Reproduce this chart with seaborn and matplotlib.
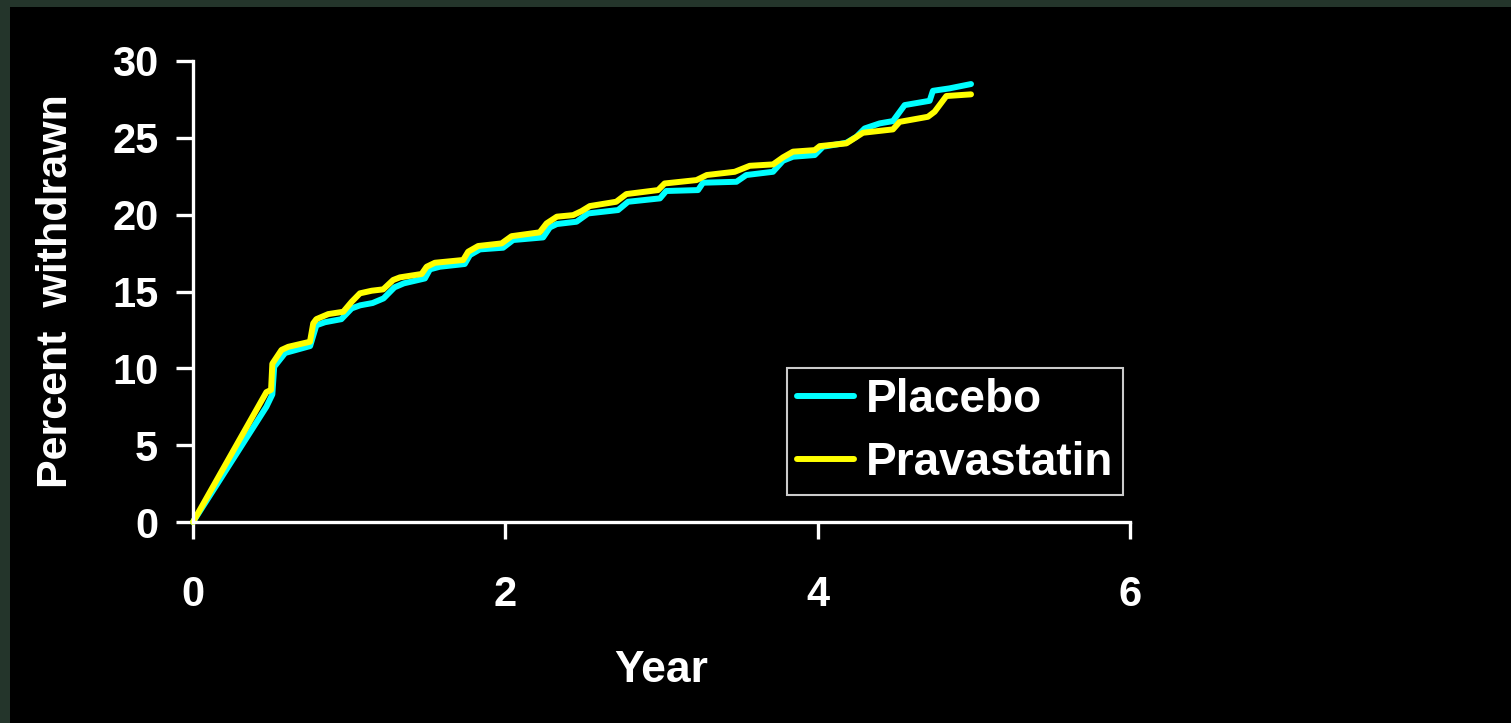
import pandas as pd
import matplotlib
matplotlib.use("Agg")
import matplotlib.pyplot as plt
import seaborn as sns
from matplotlib.patches import Rectangle

# Cumulative withdrawal curves
placebo_year = [0, 0.47, 0.508, 0.52, 0.59, 0.75, 0.79, 0.845, 0.95, 1.016, 1.07,
                1.15, 1.22, 1.29, 1.35, 1.485, 1.517, 1.58, 1.74, 1.773, 1.837,
                1.986, 2.05, 2.242, 2.285, 2.33, 2.456, 2.53, 2.722, 2.786, 2.99,
                3.03, 3.234, 3.266, 3.48, 3.543, 3.714, 3.778, 3.842, 3.981, 4.034,
                4.184, 4.248, 4.301, 4.397, 4.482, 4.557, 4.717, 4.738, 4.845, 4.982]
placebo_pct = [0, 7.5, 8.3, 10.1, 11.0, 11.45, 12.8, 13.0, 13.2, 13.9, 14.1,
               14.25, 14.55, 15.27, 15.53, 15.85, 16.44, 16.61, 16.79, 17.37, 17.74,
               17.85, 18.35, 18.52, 19.17, 19.39, 19.54, 20.08, 20.3, 20.84, 21.06,
               21.54, 21.6, 22.08, 22.14, 22.58, 22.79, 23.51, 23.77, 23.88, 24.42,
               24.68, 25.07, 25.61, 25.94, 26.09, 27.13, 27.41, 28.06, 28.22, 28.5]

prava_year = [0, 0.47, 0.5, 0.508, 0.567, 0.61, 0.749, 0.77, 0.79, 0.866, 0.962,
              1.016, 1.069, 1.144, 1.218, 1.282, 1.325, 1.464, 1.496, 1.549, 1.73,
              1.762, 1.826, 1.976, 2.04, 2.22, 2.264, 2.33, 2.434, 2.488, 2.541,
              2.71, 2.775, 2.978, 3.02, 3.224, 3.29, 3.469, 3.565, 3.714, 3.778,
              3.842, 3.981, 4.013, 4.184, 4.29, 4.482, 4.525, 4.706, 4.749, 4.824, 4.982]
prava_pct = [0, 8.45, 8.6, 10.3, 11.2, 11.4, 11.73, 12.93, 13.2, 13.53, 13.68,
             14.33, 14.88, 15.05, 15.14, 15.75, 15.92, 16.14, 16.61, 16.87, 17.05,
             17.59, 17.96, 18.13, 18.6, 18.85, 19.43, 19.87, 19.97, 20.23, 20.56,
             20.84, 21.34, 21.6, 22.03, 22.25, 22.58, 22.79, 23.18, 23.27, 23.73,
             24.1, 24.2, 24.46, 24.64, 25.33, 25.55, 26.04, 26.37, 26.7, 27.72, 27.83]

groups = ["Placebo", "Pravastatin"]
x_ticks = [0, 2, 4, 6]
y_ticks = [0, 5, 10, 15, 20, 25, 30]

df = pd.concat([
    pd.DataFrame({"year": placebo_year, "pct": placebo_pct, "group": groups[0]}),
    pd.DataFrame({"year": prava_year, "pct": prava_pct, "group": groups[1]}),
], ignore_index=True)

sns.set_style("dark")
plt.rcParams["font.family"] = ["Liberation Sans", "DejaVu Sans"]
plt.rcParams["font.weight"] = "bold"

fig = plt.figure(figsize=(15.11, 7.23), dpi=100, facecolor="#24352b")
# black slide area inside the green frame
frame = Rectangle((10 / 1511, 0), 1, 1 - 7 / 723, transform=fig.transFigure,
                  facecolor="black", edgecolor="none", zorder=-10)
fig.add_artist(frame)
ax = fig.add_axes([193 / 1511, 1 - 522 / 723, 937 / 1511, 461 / 723])
ax.set_zorder(5)
ax.set_facecolor("black")

sns.lineplot(data=df, x="year", y="pct", hue="group", hue_order=groups,
             palette={"Placebo": "#00ffff", "Pravastatin": "#ffff00"},
             sort=False, estimator=None, linewidth=4.3, ax=ax)
for ln in ax.lines:
    ln.set_solid_capstyle("round")
    ln.set_solid_joinstyle("round")
    ln.set_clip_on(False)

ax.set_xlim(0, 6)
ax.set_ylim(0, 30)
ax.set_xticks(x_ticks)
ax.set_yticks(y_ticks)
ax.grid(False)
for side in ["top", "right"]:
    ax.spines[side].set_visible(False)
for side in ["left", "bottom"]:
    ax.spines[side].set_color("white")
    ax.spines[side].set_linewidth(2.4)
ax.tick_params(axis="both", colors="white", direction="out", length=12, width=2.4,
               labelsize=30, bottom=True, left=True)
ax.tick_params(axis="y", pad=13)
ax.tick_params(axis="x", pad=26)
for lab in ax.get_xticklabels() + ax.get_yticklabels():
    lab.set_fontweight("bold")

ax.set_xlabel("Year", color="white", fontsize=32, fontweight="bold", labelpad=25)
ax.set_ylabel("Percent  withdrawn", color="white", fontsize=31, fontweight="bold",
              labelpad=26)

leg = ax.legend(loc="lower left", bbox_to_anchor=(0.634, 0.058), borderaxespad=0,
                fontsize=33, frameon=True, fancybox=False, facecolor="black",
                edgecolor="white", handlelength=1.25, handletextpad=0.25,
                labelspacing=0.42, borderpad=0.22)
leg.get_frame().set_linewidth(1.5)
for ln in leg.get_lines():
    ln.set_linewidth(4.3)
    ln.set_solid_capstyle("round")
for t in leg.get_texts():
    t.set_color("white")
    t.set_fontweight("bold")

fig.savefig("out.png", dpi=100, facecolor=fig.get_facecolor())
